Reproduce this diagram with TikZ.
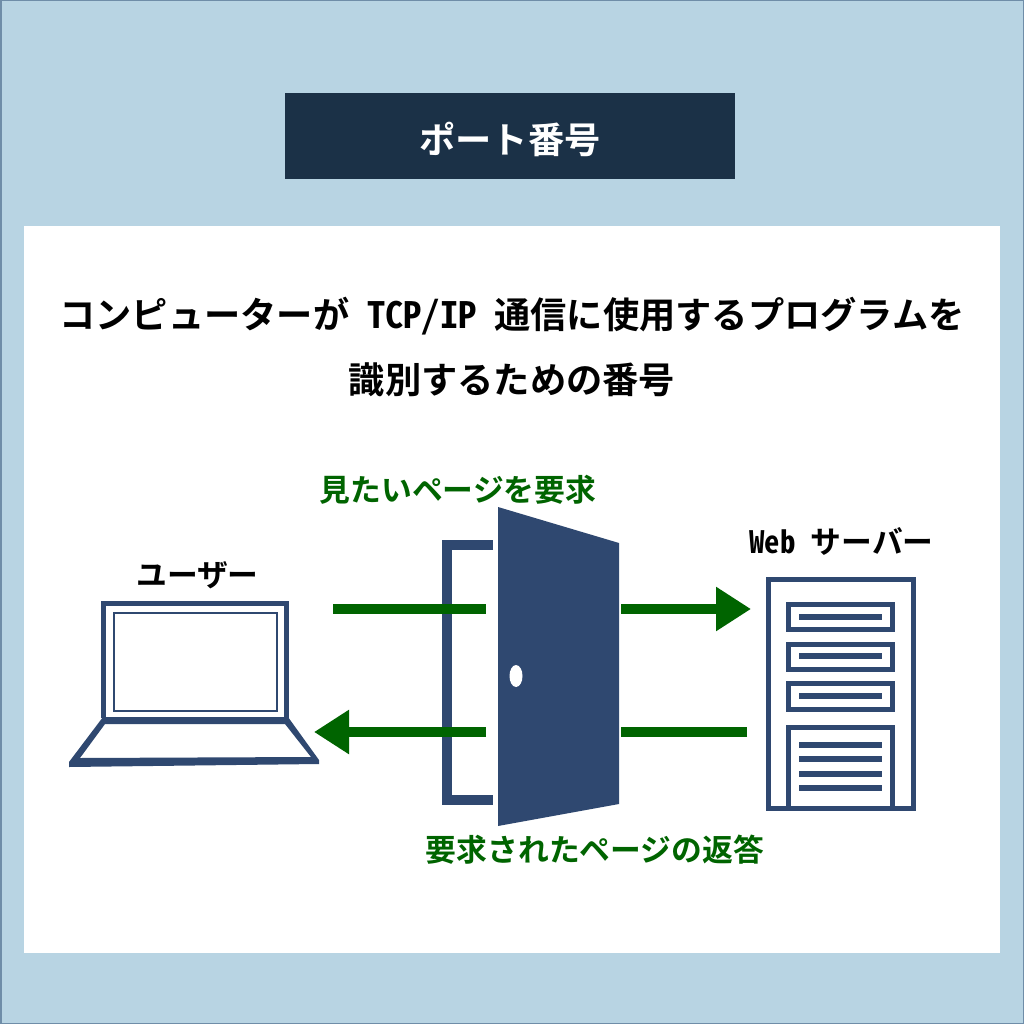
\documentclass[tikz,border=0pt]{standalone}
\usepackage{fontspec}
\setmainfont{Noto Sans CJK JP}[BoldFont={* Bold},RawFeature=+hwid]
\usetikzlibrary{arrows.meta}
\definecolor{bgblue}{HTML}{B8D4E3}
\definecolor{edgeblue}{HTML}{6F8DA8}
\definecolor{titlenavy}{HTML}{1B3147}
\definecolor{doornavy}{HTML}{2F4870}
\definecolor{arrowgreen}{HTML}{006400}
\tikzset{
  x=1pt,y=-1pt,
  shape line/.style={draw=doornavy,line width=5pt,fill=none},
  thin bar/.style={draw=doornavy,line width=5.5pt},
  flow/.style={draw=arrowgreen,line width=10pt},
  flow tip/.style={flow,-{Triangle[length=35pt,width=42pt]}},
  caption/.style={font=\bfseries\fontsize{36.25}{36.25}\selectfont,inner sep=0pt,text=black},
  small caption/.style={font=\bfseries\fontsize{30.8}{30.8}\selectfont,inner sep=0pt,text=black},
  green caption/.style={small caption,text=arrowgreen},
}
\begin{document}
\begin{tikzpicture}
\useasboundingbox (0,0) rectangle (1024,1024);
\fill[bgblue] (0,0) rectangle (1024,1024);
\draw[edgeblue,line width=1.5pt] (0.75,0.75) rectangle (1023.25,1023.25);
\fill[white] (24,226) rectangle (1000,953);
\fill[titlenavy] (285,93) rectangle (735,179);
\node[caption,text=white] (title) at (510,139) {ポート番号};
\node[caption] (line one) at (512,316) {コンピューターが TCP/IP 通信に使用するプログラムを};
\node[caption] (line two) at (512,380) {識別するための番号};
\node[green caption] (request) at (458,489.5) {見たいページを要求};
\node[green caption] (reply) at (595,850) {要求されたページの返答};
\node[small caption] (user) at (197.5,575.5) {ユーザー};
\node[small caption] (server) at (841.5,541) {Web サーバー};
% laptop
\draw[shape line] (103.5,718) -- (103.5,603.5) -- (286.5,603.5) -- (286.5,718);
\draw[draw=doornavy,line width=2pt] (113.5,612.5) rectangle (276.5,710.5);
\fill[doornavy,even odd rule] (69,767) -- (69,762) -- (103,717) -- (288,717) -- (319,760) -- (319,764) -- cycle
  (80,758) -- (105,724) -- (285,724) -- (311,757) -- cycle;
% server
\draw[shape line] (768.5,579.5) rectangle (913.5,808.5);
\draw[shape line] (788.5,604.5) rectangle (892.5,629.5);
\draw[shape line] (788.5,644) rectangle (892.5,669.5);
\draw[shape line] (788.5,683.5) rectangle (892.5,709.5);
\draw[shape line] (788.5,808) -- (788.5,727.5) -- (892.5,727.5) -- (892.5,808);
\foreach \yy in {617,656,696,745,759,774,788}
  \draw[thin bar] (799,\yy) -- (882,\yy);
% door
\draw[draw=doornavy,line width=10pt] (493,545) -- (447,545) -- (447,800) -- (493,800);
\fill[doornavy] (498,507) -- (619,543) -- (619,804) -- (498,826) -- cycle;
\fill[white] (516,676) ellipse [x radius=6.5,y radius=11];
% flows
\coordinate (in start) at (333,609);
\coordinate (in stop) at (486,609);
\coordinate (out start) at (621,609);
\coordinate (out tip) at (751,609);
\coordinate (back start) at (747,732);
\coordinate (back stop) at (621,732);
\coordinate (ret start) at (486,732);
\coordinate (ret tip) at (314,732);
\draw[flow] (in start) -- (in stop);
\draw[flow tip] (out start) -- (out tip);
\draw[flow] (back start) -- (back stop);
\draw[flow tip] (ret start) -- (ret tip);
\end{tikzpicture}
\end{document}
